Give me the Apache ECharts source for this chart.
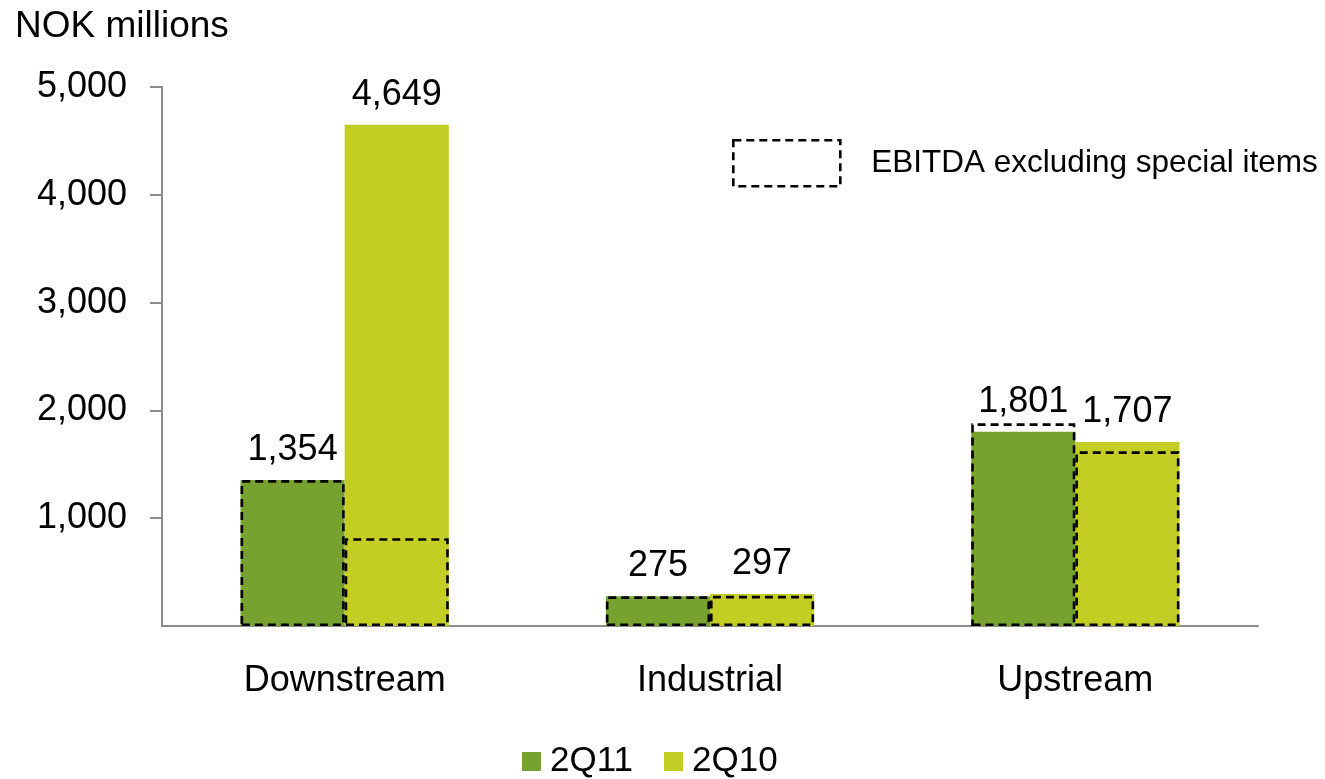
<!DOCTYPE html>
<html>
<head>
<meta charset="utf-8">
<script src="https://cdn.jsdelivr.net/npm/echarts@6/dist/echarts.min.js"></script>
<style>
html,body{margin:0;padding:0;background:#fff;}
#chart{width:1325px;height:779px;}
</style>
</head>
<body>
<div id="chart"></div>
<script>
const categories = ['Downstream', 'Industrial', 'Upstream'];
const series2Q11 = [1354, 275, 1801];
const series2Q10 = [4649, 297, 1707];
const ebitdaExcl2Q11 = [1354, 275, 1880];
const ebitdaExcl2Q10 = [815, 280, 1620];
const yTicks = { min: 0, max: 5000, interval: 1000 };
const unitLabel = 'NOK millions';
const dashedName = 'EBITDA excluding special items';

const FONT = 'Liberation Sans, Arial, sans-serif';
const fmt = v => Number(v).toLocaleString('en-US');
const dashStyle = { color: 'rgba(0,0,0,0)', borderColor: '#000', borderWidth: 2.6, borderType: [8, 5] };

const chart = echarts.init(document.getElementById('chart'), null, { renderer: 'canvas' });
chart.setOption({
  animation: false,
  backgroundColor: '#fff',
  textStyle: { fontFamily: FONT },
  title: {
    text: unitLabel, left: 10, top: 3,
    textStyle: { fontFamily: FONT, fontSize: 37, fontWeight: 'normal', color: '#000' }
  },
  grid: { left: 162, right: 67, top: 87, bottom: 153 },
  legend: [{
    data: ['2Q11', '2Q10'],
    left: 522, top: 744, padding: 0,
    icon: 'rect', itemWidth: 19, itemHeight: 19, itemGap: 31,
    textStyle: { fontFamily: FONT, fontSize: 35, color: '#000', padding: [0, 0, 0, 4] }
  }, {
    data: [dashedName],
    left: 732, top: 139, padding: 0,
    icon: 'rect', itemWidth: 107, itemHeight: 46,
    itemStyle: dashStyle,
    textStyle: { fontFamily: FONT, fontSize: 31.5, color: '#000', padding: [0, 0, 0, 26] }
  }],
  xAxis: [{
    type: 'category', data: categories,
    axisLine: { show: true, lineStyle: { color: '#8c8c8c', width: 2 } },
    axisTick: { show: false },
    axisLabel: { fontFamily: FONT, fontSize: 36, color: '#000', margin: 37 }
  }, {
    type: 'category', data: categories, show: false, position: 'bottom'
  }],
  yAxis: {
    type: 'value', min: yTicks.min, max: yTicks.max, interval: yTicks.interval,
    axisLine: { show: true, lineStyle: { color: '#8c8c8c', width: 2 } },
    axisTick: { show: true, length: 12, lineStyle: { color: '#8c8c8c', width: 2 } },
    splitLine: { show: false },
    axisLabel: {
      fontFamily: FONT, fontSize: 36, color: '#000', margin: 35,
      showMinLabel: false, formatter: v => fmt(v)
    }
  },
  series: [{
    name: '2Q11', type: 'bar', xAxisIndex: 0, data: series2Q11,
    barGap: '0%', barCategoryGap: '43%',
    itemStyle: { color: '#77A230' },
    label: { show: true, position: 'top', distance: 12, fontFamily: FONT, fontSize: 36, color: '#000', formatter: p => fmt(p.value) }
  }, {
    name: '2Q10', type: 'bar', xAxisIndex: 0, data: series2Q10,
    barGap: '0%', barCategoryGap: '43%',
    itemStyle: { color: '#C4CD23' },
    label: { show: true, position: 'top', distance: 12, fontFamily: FONT, fontSize: 36, color: '#000', formatter: p => fmt(p.value) }
  }, {
    name: dashedName, type: 'bar', xAxisIndex: 1, data: ebitdaExcl2Q11,
    barGap: '0%', barCategoryGap: '43%', z: 5,
    itemStyle: dashStyle
  }, {
    name: dashedName, type: 'bar', xAxisIndex: 1, data: ebitdaExcl2Q10,
    barGap: '0%', barCategoryGap: '43%', z: 5,
    itemStyle: dashStyle
  }]
});
</script>
</body>
</html>
